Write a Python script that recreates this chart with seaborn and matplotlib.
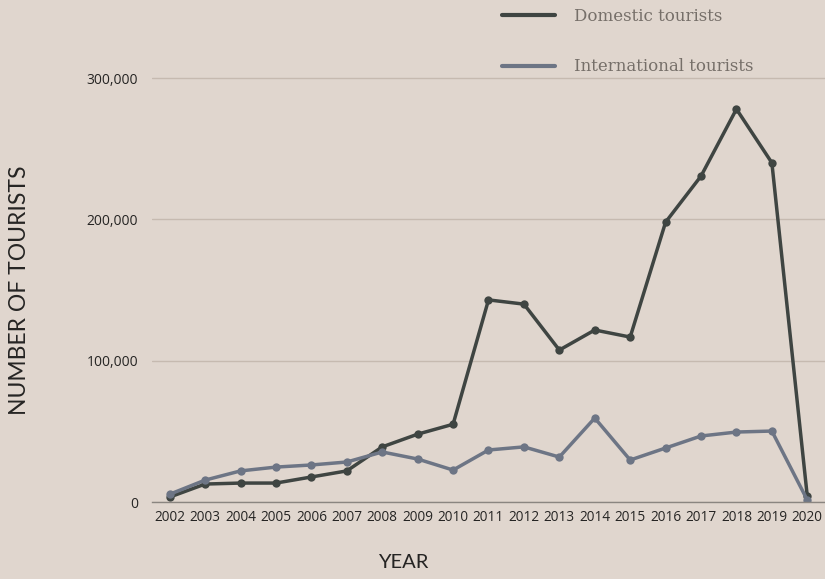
import pandas as pd
import numpy as np
import matplotlib.pyplot as plt
import seaborn as sns
from matplotlib.lines import Line2D

# Data
years = list(range(2002, 2021))
domestic = [3500, 12700, 13400, 13400, 17700, 22000, 39000, 48000, 55000, 143000,
            140000, 107500, 121700, 116700, 198000, 230600, 278000, 240000, 4000]
international = [5500, 15500, 22000, 24700, 26200, 28300, 35400, 30400, 22600, 36800,
                 39000, 31800, 59400, 29700, 38200, 46700, 49500, 50200, 1400]

df = pd.DataFrame({"year": years,
                   "Domestic tourists": domestic,
                   "International tourists": international})
long_df = df.melt(id_vars="year", var_name="type", value_name="tourists")

bg = "#e0d6ce"
sns.set_theme(style="white")
plt.rcParams["font.family"] = ["Open Sans", "DejaVu Sans"]

fig = plt.figure(figsize=(8.25, 5.79), dpi=100, facecolor=bg)
ax = fig.add_axes([152 / 825, 1 - 502 / 579, 673 / 825, (502 - 40) / 579])
ax.set_facecolor(bg)

palette = {"Domestic tourists": "#3f4542", "International tourists": "#6d7585"}
sns.lineplot(data=long_df, x="year", y="tourists", hue="type", palette=palette,
             marker="o", markersize=6, markeredgewidth=0, linewidth=2.5, ax=ax,
             legend=False)

ax.set_xlim(2001.5, 2020.5)
ymax = 300000 * (502 - 40) / (502 - 78)
ax.set_ylim(0, ymax)
ax.set_xticks(years)
ax.set_yticks([0, 100000, 200000, 300000])
ax.set_yticklabels(["0", "100,000", "200,000", "300,000"])
ax.yaxis.grid(True, color="#c6bab0", linewidth=1)
ax.xaxis.grid(False)
for s in ["top", "right", "left"]:
    ax.spines[s].set_visible(False)
ax.spines["bottom"].set_color("#8a8580")
ax.spines["bottom"].set_linewidth(1)
ax.tick_params(axis="x", length=0, labelsize=9.8, colors="#252423", pad=6)
ax.tick_params(axis="y", length=0, labelsize=10, colors="#252423", pad=10)

ax.set_xlabel("YEAR", fontsize=14.5, color="#252423", family=["Lato", "DejaVu Sans"])
ax.xaxis.set_label_coords((403 - 152) / 673, -52 / 462)
ax.set_ylabel("NUMBER OF TOURISTS", fontsize=16.5, color="#252423", family=["Lato", "DejaVu Sans"])
ax.yaxis.set_label_coords(-122 / 673, (502 - 290) / 462)

handles = [Line2D([], [], color=palette[k], linewidth=3) for k in palette]
leg = fig.legend(handles, list(palette.keys()), loc="upper left",
                 bbox_to_anchor=(487 / 825, 1.012), frameon=False,
                 handlelength=3.2, handletextpad=1.1, labelspacing=2.0,
                 prop={"family": "DejaVu Serif", "size": 12, "weight": "light"})
for t in leg.get_texts():
    t.set_color("#766f69")

fig.savefig("out.png", dpi=100, facecolor=bg)
